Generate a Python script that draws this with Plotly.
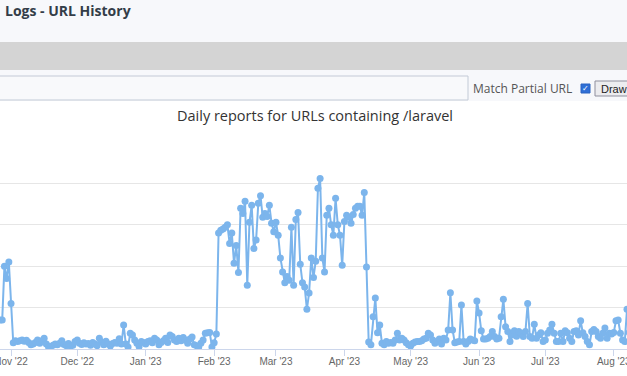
import pandas as pd
import plotly.graph_objects as go

# ---- data: daily report counts (first visible day: 27 Oct 2022) ----
START_DATE = "2022-10-27"
oct_2022 = [7.0, 7.0, 20.0, 17.0, 21.0]
nov_2022 = [11.0, 1.5, 2.0, 1.8, 2.0, 2.2, 1.9, 2.1, 1.6, 1.0, 1.2, 1.6, 2.2, 1.4, 2.0,
            2.6, 1.2, 0.5, 0.6, 0.9, 1.2, 1.0, 1.4, 2.0, 1.1, 0.8, 1.3, 0.7, 0.9, 1.8]
dec_2022 = [2.2, 1.4, 1.1, 1.5, 1.2, 1.3, 0.9, 1.6, 1.2, 0.8, 2.6, 1.7, 1.0, 1.9, 1.2, 0.7,
            1.3, 1.6, 1.4, 2.5, 1.2, 5.8, 1.2, 0.5, 3.8, 3.4, 2.2, 1.4, 0.6, 1.8, 1.6]
jan_2023 = [1.2, 1.8, 2.0, 1.5, 2.6, 2.2, 1.0, 1.6, 2.0, 2.6, 1.6, 3.4, 3.0, 2.2, 1.8, 2.6,
            2.0, 2.8, 2.2, 1.4, 2.4, 2.9, 1.0, 0.8, 0.5, 1.4, 2.2, 3.8, 3.9, 4.0, 0.5]
feb_2023 = [1.5, 3.6, 28.0, 28.7, 29.0, 29.4, 30.0, 25.5, 28.0, 20.7, 25.0, 18.5, 34.0, 32.7,
            35.7, 15.4, 30.6, 34.7, 24.3, 26.3, 35.2, 37.0, 31.8, 32.7, 32.0, 34.7, 30.4, 28.3]
mar_2023 = [30.6, 27.5, 22.0, 18.6, 16.0, 17.5, 16.6, 29.4, 15.4, 31.3, 33.0, 20.5, 16.0, 15.0,
            9.6, 13.5, 22.0, 17.3, 21.2, 38.8, 41.2, 22.0, 18.6, 32.3, 34.0, 30.0, 27.5, 36.4,
            30.0, 27.5, 20.2]
apr_2023 = [30.8, 32.3, 31.8, 30.4, 32.5, 34.0, 34.5, 34.5, 32.3, 37.8, 19.8, 1.7, 1.0, 7.8,
            12.3, 3.9, 5.8, 1.4, 1.0, 1.8, 1.4, 1.6, 1.4, 2.2, 3.8, 2.2, 2.6, 2.2, 1.5, 1.0]
may_2023 = [0.7, 1.4, 1.7, 1.8, 1.8, 2.0, 2.4, 2.6, 3.8, 3.4, 2.2, 1.4, 1.8, 2.4, 1.2, 2.6,
            2.2, 4.6, 13.6, 4.6, 1.5, 1.7, 1.8, 10.6, 1.8, 1.2, 1.8, 2.4, 2.2, 2.0, 11.6]
jun_2023 = [8.7, 4.4, 2.4, 2.4, 2.6, 3.0, 4.2, 3.0, 2.4, 2.6, 7.8, 12.0, 5.4, 4.2, 1.8, 3.4,
            4.4, 3.1, 4.2, 3.8, 3.0, 4.2, 11.0, 3.0, 2.6, 6.0, 2.6, 3.4, 3.9, 1.8]
jul_2023 = [2.2, 3.8, 4.6, 6.0, 3.8, 1.8, 1.8, 3.8, 1.8, 4.4, 3.9, 2.6, 1.8, 4.2, 4.4, 3.4,
            6.8, 3.9, 3.0, 1.8, 1.0, 4.2, 4.7, 4.2, 3.0, 2.6, 3.8, 5.1, 2.6, 3.8, 3.6]
aug_2023 = [4.0, 6.8, 7.0, 3.8, 2.2, 1.8, 9.6, 4.0, 2.5]

values = (oct_2022 + nov_2022 + dec_2022 + jan_2023 + feb_2023 + mar_2023 +
          apr_2023 + may_2023 + jun_2023 + jul_2023 + aug_2023)
dates = pd.date_range(START_DATE, periods=len(values), freq="D")

X_START = "2022-10-27"
X_END = "2023-08-07"
TITLE = "Daily reports for URLs containing /laravel"
PAGE_TITLE = "Logs - URL History"

W, H = 627, 376
TOP, BOTTOM = 142, 349


def px(x):
    return x / W


def py(y):
    return (BOTTOM - y) / (BOTTOM - TOP)


fig = go.Figure(go.Scatter(
    x=dates, y=values, mode="lines+markers",
    line=dict(color="#7cb5ec", width=2),
    marker=dict(size=7, color="#7cb5ec"),
    hoverinfo="skip",
))

shapes = [
    # page header background
    dict(type="rect", xref="paper", yref="paper", x0=0, x1=1, y0=py(101), y1=py(0),
         fillcolor="#f7f8fb", line=dict(width=0), layer="below"),
    # gray toolbar band
    dict(type="rect", xref="paper", yref="paper", x0=0, x1=1, y0=py(70), y1=py(42),
         fillcolor="#d4d4d4", line=dict(width=0), layer="below"),
    # input box
    dict(type="rect", xref="paper", yref="paper", x0=px(-3), x1=px(468), y0=py(100), y1=py(76),
         fillcolor="#f8f9fb", line=dict(color="#c3cad6", width=1), layer="below"),
    # checkbox
    dict(type="rect", xref="paper", yref="paper", x0=px(581), x1=px(590), y0=py(93), y1=py(84),
         fillcolor="#2f6fd6", line=dict(color="#2a62c0", width=1)),
    # Draw button
    dict(type="rect", xref="paper", yref="paper", x0=px(595), x1=px(630), y0=py(96), y1=py(81),
         fillcolor="#ececef", line=dict(color="#8f8f9d", width=1)),
]

annotations = [
    dict(text="<b>" + PAGE_TITLE + "</b>", xref="paper", yref="paper", x=px(3), y=py(10),
         xanchor="left", yanchor="middle", showarrow=False,
         font=dict(family="Open Sans", size=14, color="#333d48")),
    dict(text="Match Partial URL", xref="paper", yref="paper", x=px(471), y=py(88),
         xanchor="left", yanchor="middle", showarrow=False,
         font=dict(family="Open Sans", size=12, color="#555")),
    dict(text="<b>✓</b>", xref="paper", yref="paper", x=px(585.5), y=py(88.5),
         xanchor="center", yanchor="middle", showarrow=False,
         font=dict(family="DejaVu Sans", size=8, color="white")),
    dict(text="Draw", xref="paper", yref="paper", x=px(599), y=py(88.5),
         xanchor="left", yanchor="middle", showarrow=False,
         font=dict(family="Liberation Sans", size=11, color="#222")),
    dict(text=TITLE, xref="paper", yref="paper", x=px(315), y=py(115),
         xanchor="center", yanchor="middle", showarrow=False,
         font=dict(family="Open Sans", size=14.5, color="#333")),
]

fig.update_layout(
    width=W, height=H, autosize=False,
    margin=dict(l=0, r=0, t=TOP, b=H - BOTTOM, pad=0, autoexpand=False),
    paper_bgcolor="white", plot_bgcolor="white",
    showlegend=False,
    shapes=shapes, annotations=annotations,
    xaxis=dict(
        type="date", range=[X_START, X_END],
        tick0="2022-11-01", dtick="M1", tickformat="%b '%y",
        ticks="outside", ticklen=6, tickcolor="#ccd6eb", tickwidth=1,
        ticklabeloverflow="allow", automargin=False, ticklabelstandoff=-3,
        showline=True, linecolor="#ccd6eb", linewidth=1,
        showgrid=False, zeroline=False,
        tickfont=dict(family="Liberation Sans", size=10, color="#666"),
        fixedrange=True,
    ),
    yaxis=dict(
        range=[0, 50], dtick=10, showticklabels=False, automargin=False,
        showgrid=True, gridcolor="#e6e6e6", gridwidth=1,
        zeroline=False, showline=False, ticks="", fixedrange=True,
    ),
)

fig.write_html(
    "out.html",
    config={"displayModeBar": False},
    post_script=(
        "document.documentElement.style.overflow='hidden';"
        "document.body.style.margin='0';document.body.style.overflow='hidden';"
        "window.scrollTo(0,0);"
    ),
)
